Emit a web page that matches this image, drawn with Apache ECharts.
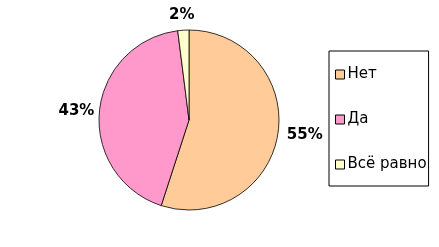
<!DOCTYPE html>
<html><head><meta charset="utf-8">
<script src="https://cdn.jsdelivr.net/npm/echarts@6/dist/echarts.min.js"></script>
<style>html,body{margin:0;padding:0;background:#fff}#c{width:439px;height:247px}</style>
</head><body><div id="c"></div>
<script>
const categories = ['Нет', 'Да', 'Всё равно'];
const values = [55, 43, 2];
const colors = ['#FFCC99', '#FF99CC', '#FFFFCC'];
const labelLens = [4, 0, 15];
const labelGaps = [5, 5, -12];

const chart = echarts.init(document.getElementById('c'), null, {renderer: 'canvas'});
chart.setOption({
  animation: false,
  legend: {
    orient: 'vertical',
    left: 329,
    top: 51,
    data: categories,
    icon: 'rect',
    itemWidth: 9,
    itemHeight: 9,
    itemGap: 30,
    padding: [16, 2, 14, 6],
    borderColor: '#000',
    borderWidth: 1,
    itemStyle: {borderColor: '#000', borderWidth: 1},
    textStyle: {fontFamily: 'DejaVu Sans', fontSize: 15, color: '#000', padding: [0, 0, 0, -2]}
  },
  series: [{
    type: 'pie',
    center: [189, 120],
    radius: 90,
    startAngle: 90,
    clockwise: true,
    data: categories.map((n, i) => ({
      name: n, value: values[i],
      itemStyle: {color: colors[i]},
      label: {distanceToLabelLine: labelGaps[i]},
      labelLine: {show: false, length: labelLens[i], length2: 0}
    })),
    itemStyle: {borderColor: '#000', borderWidth: 0.8},
    label: {
      show: true,
      position: 'outside',
      formatter: '{d}%',
      fontFamily: 'DejaVu Sans',
      fontWeight: 'bold',
      fontSize: 15,
      color: '#000'
    },
    labelLine: {show: false, length: 7, length2: 0},
    emphasis: {disabled: true}
  }]
});
</script></body></html>
